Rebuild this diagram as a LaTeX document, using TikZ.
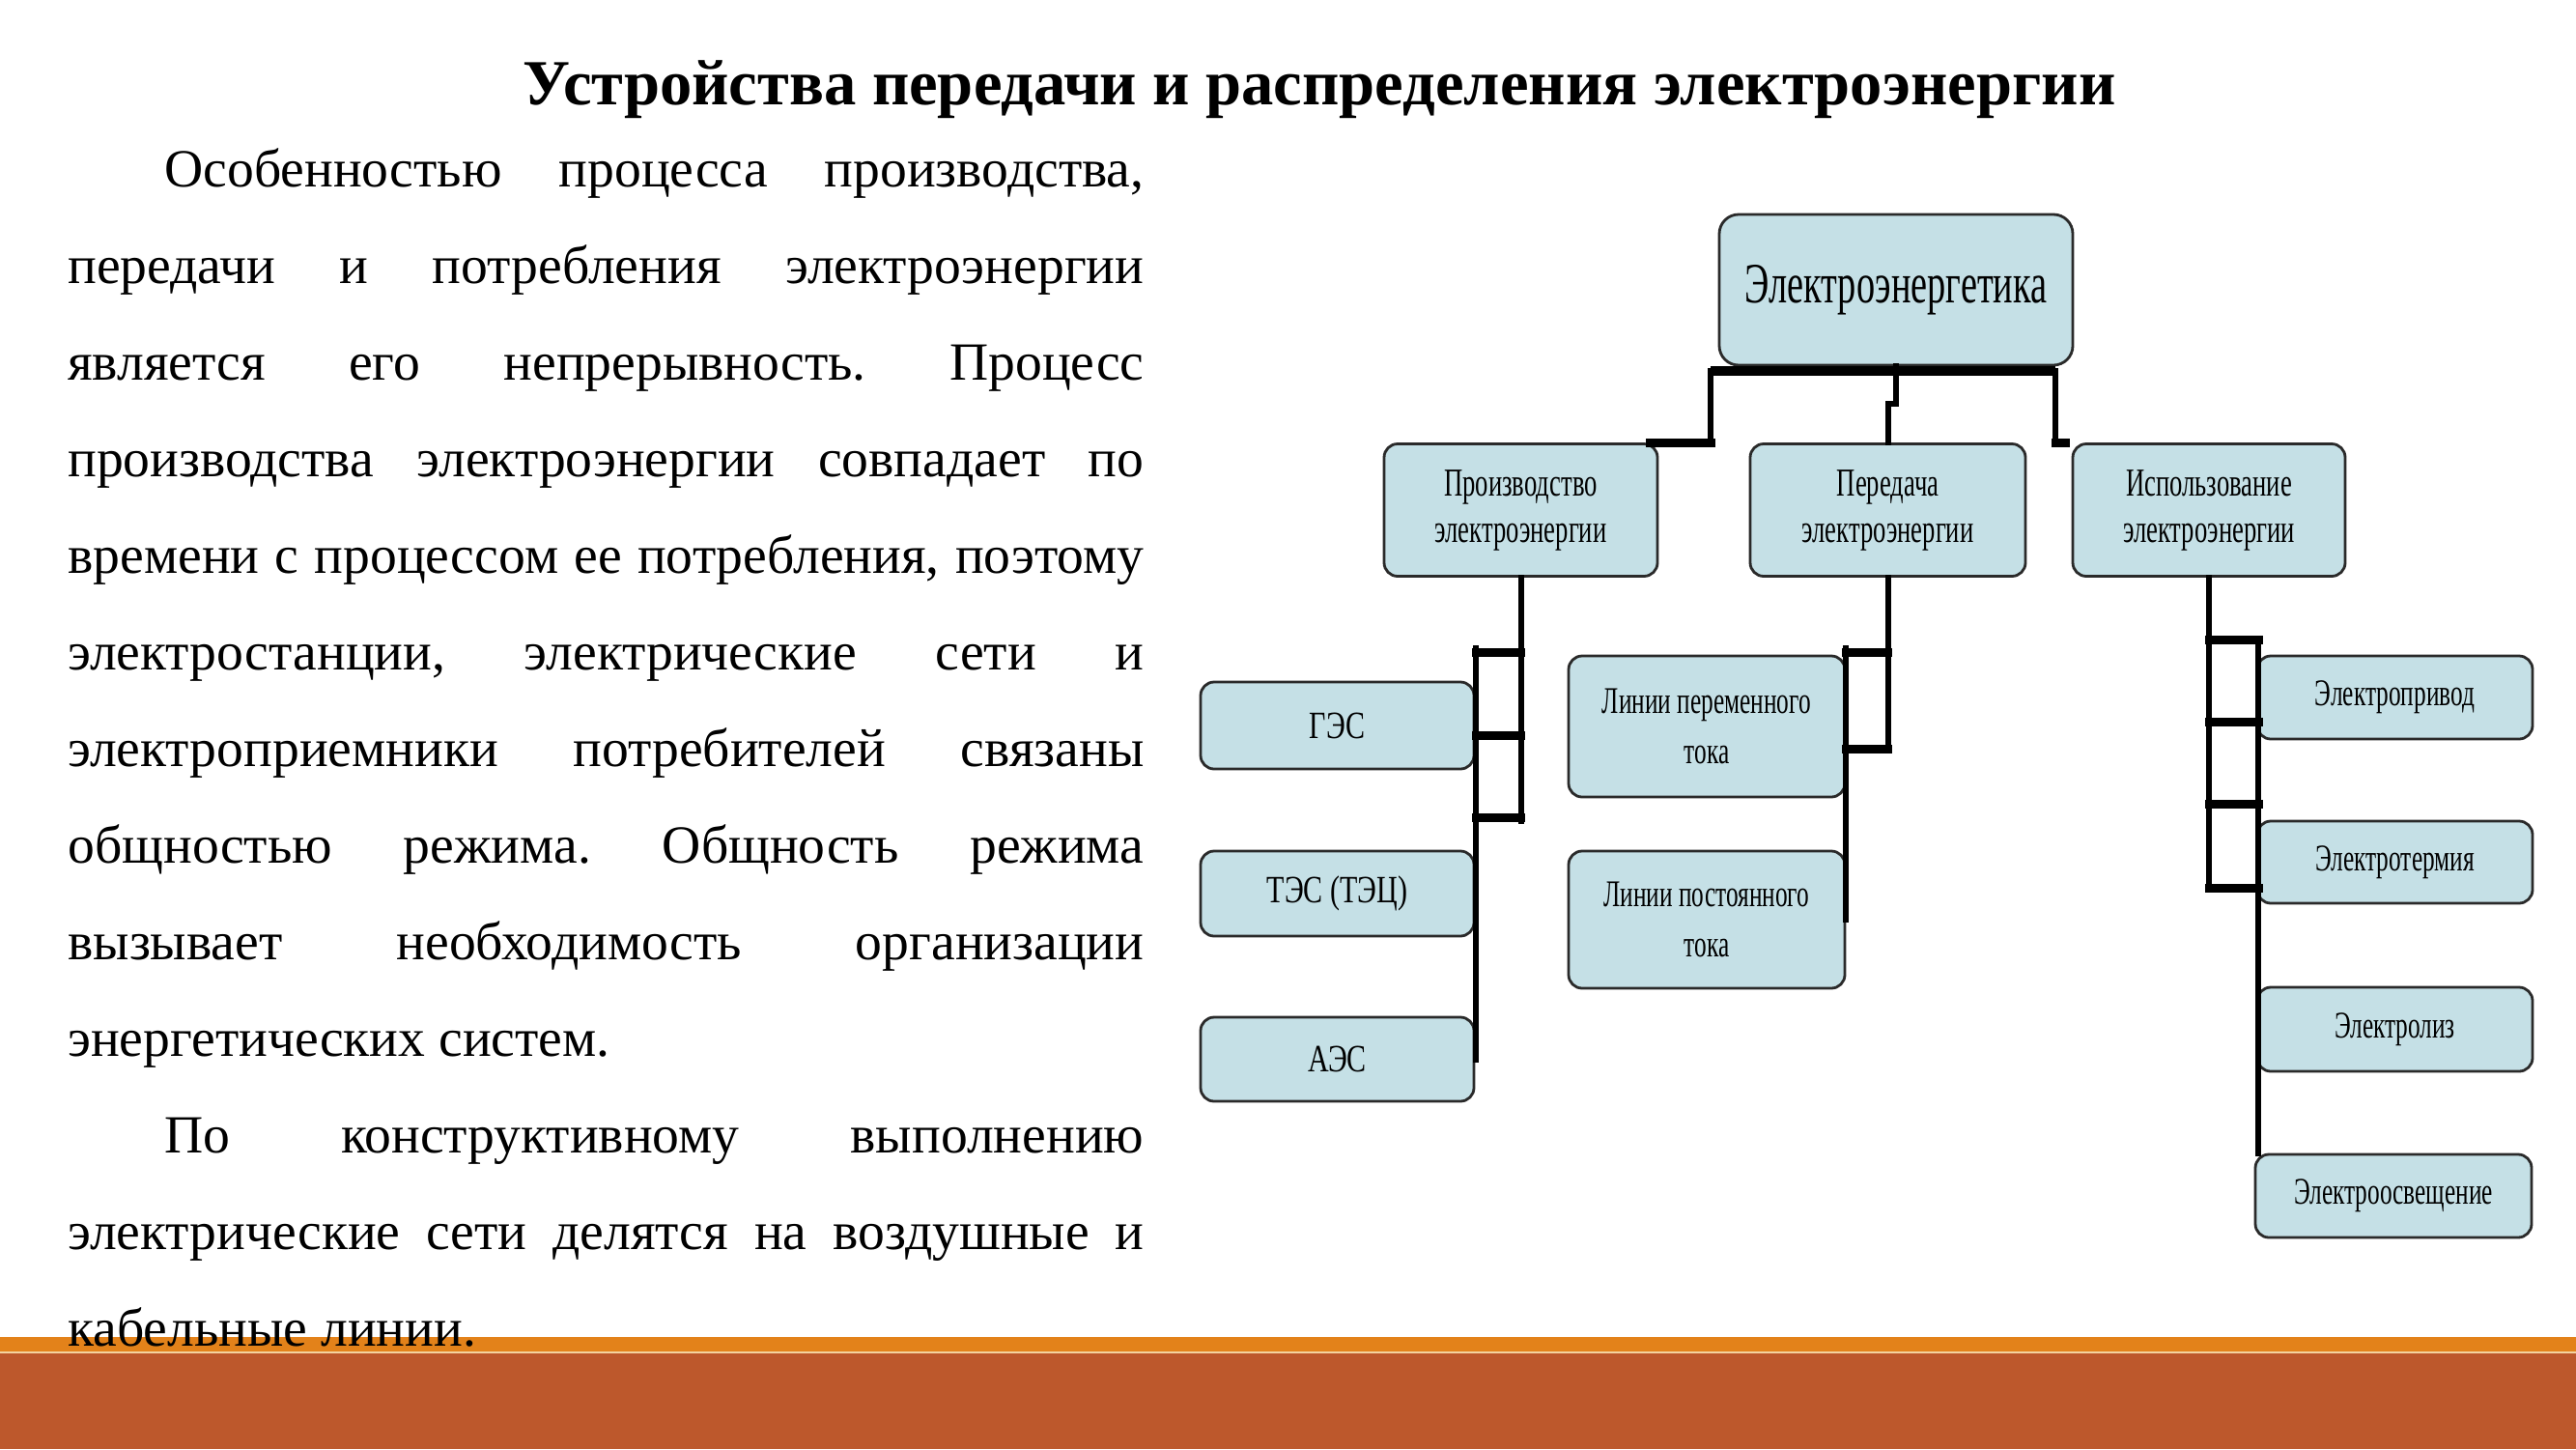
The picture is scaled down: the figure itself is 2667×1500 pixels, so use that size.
\documentclass[tikz,border=0pt]{standalone}
\usepackage{fontspec}
\setmainfont{Liberation Serif}
\newfontfamily\diagfont[FakeStretch=0.65]{Liberation Serif}
\newfontfamily\diagwide[FakeStretch=0.75]{Liberation Serif}
\usetikzlibrary{calc}
\definecolor{boxfill}{HTML}{C5E0E6}
\definecolor{boxline}{HTML}{2A2A2A}
\definecolor{bandorange}{HTML}{E3821A}
\definecolor{bandred}{HTML}{BD582C}
\definecolor{bandpale}{HTML}{F3D3A0}
\frenchspacing
\begin{document}
\begin{tikzpicture}[x=0.5pt,y=-0.5pt,
  box/.style={draw=boxline, line width=1.4pt, fill=boxfill, rounded corners=7pt,
    inner sep=0pt, align=center, text=black},
  vline/.style={line width=3pt, black, line cap=rect},
  hbar/.style={line width=4.5pt, black, line cap=rect},
  bodyline/.style={anchor=base west, inner sep=0pt, font=\fontsize{27.8}{32}\selectfont},
]
\useasboundingbox (0,0) rectangle (2667,1500);
\fill[white] (0,0) rectangle (2667,1500);

% footer bands
\fill[bandorange] (0,1384) rectangle (2667,1399);
\fill[bandpale] (0,1399) rectangle (2667,1401);
\fill[bandred] (0,1401) rectangle (2667,1500);

% heading
\node[anchor=base, inner sep=0pt, font=\bfseries\fontsize{33.3}{40}\selectfont] (title)
  at (1366,108) {Устройства передачи и распределения электроэнергии};

% body text, justified line by line
\node[bodyline] (l1)  at (170,193)  {\makebox[507pt][s]{Особенностью процесса производства,}};
\node[bodyline] (l2)  at (70,293)   {\makebox[557pt][s]{передачи и потребления электроэнергии}};
\node[bodyline] (l3)  at (70,393)   {\makebox[557pt][s]{является его непрерывность. Процесс}};
\node[bodyline] (l4)  at (70,493)   {\makebox[557pt][s]{производства электроэнергии совпадает по}};
\node[bodyline] (l5)  at (70,593)   {\makebox[557pt][s]{времени с процессом ее потребления, поэтому}};
\node[bodyline] (l6)  at (70,693)   {\makebox[557pt][s]{электростанции, электрические сети и}};
\node[bodyline] (l7)  at (70,793)   {\makebox[557pt][s]{электроприемники потребителей связаны}};
\node[bodyline] (l8)  at (70,893)   {\makebox[557pt][s]{общностью режима. Общность режима}};
\node[bodyline] (l9)  at (70,993)   {\makebox[557pt][s]{вызывает необходимость организации}};
\node[bodyline] (l10) at (70,1093)  {энергетических систем.};
\node[bodyline] (l11) at (170,1193) {\makebox[507pt][s]{По конструктивному выполнению}};
\node[bodyline] (l12) at (70,1293)  {\makebox[557pt][s]{электрические сети делятся на воздушные и}};
\node[bodyline] (l13) at (70,1393)  {кабельные линии.};

% hierarchy boxes
\node[box, rounded corners=10pt, minimum width=183pt, minimum height=78pt,
  font=\diagfont\fontsize{29.5}{34}\selectfont] (top) at (1963,300) {Электроэнергетика};

\node[box, minimum width=141.5pt, minimum height=68.5pt,
  font=\diagfont\fontsize{20.5}{24}\selectfont] (prod) at (1574.5,528) {Производство\\электроэнергии};
\node[box, minimum width=142.5pt, minimum height=68.5pt,
  font=\diagfont\fontsize{20.5}{24}\selectfont] (pered) at (1954.5,528) {Передача\\электроэнергии};
\node[box, minimum width=141pt, minimum height=68.5pt,
  font=\diagfont\fontsize{20.5}{24}\selectfont] (isp) at (2287,528) {Использование\\электроэнергии};

\node[box, minimum width=141.5pt, minimum height=45pt,
  font=\diagwide\fontsize{20}{24}\selectfont] (ges) at (1384.5,751) {ГЭС};
\node[box, minimum width=141.5pt, minimum height=44pt,
  font=\diagwide\fontsize{20}{24}\selectfont] (tes) at (1384.5,925) {ТЭС (ТЭЦ)};
\node[box, minimum width=141.5pt, minimum height=43.5pt,
  font=\diagwide\fontsize{20}{24}\selectfont] (aes) at (1384.5,1096.5) {АЭС};

\node[box, minimum width=143pt, minimum height=73pt,
  font=\diagfont\fontsize{19.5}{26}\selectfont] (lac) at (1767,752) {Линии переменного\\тока};
\node[box, minimum width=143pt, minimum height=71pt,
  font=\diagfont\fontsize{19.5}{26}\selectfont] (ldc) at (1767,952) {Линии постоянного\\тока};

\node[box, minimum width=142.5pt, minimum height=43pt,
  font=\diagfont\fontsize{19.5}{24}\selectfont] (drive) at (2479.5,722) {Электропривод};
\node[box, minimum width=142.5pt, minimum height=42.5pt,
  font=\diagfont\fontsize{19.5}{24}\selectfont] (therm) at (2479.5,892.5) {Электротермия};
\node[box, minimum width=142.5pt, minimum height=43.5pt,
  font=\diagfont\fontsize{19.5}{24}\selectfont] (lysis) at (2479.5,1065.5) {Электролиз};
\node[box, minimum width=143pt, minimum height=43pt,
  font=\diagfont\fontsize{19.5}{24}\selectfont] (light) at (2478,1238) {Электроосвещение};

% connectors from the top box
\coordinate (busL) at (1771,384);
\coordinate (busR) at (2128,384);
\draw[line width=5pt, black] (busL) -- (busR);
\draw[vline] (busL) -- (busL |- prod.north);
\draw[hbar] (busL |- prod.north) -- ([xshift=-4.5pt]prod.north east);
\draw[vline] (top.south) -- ++(0,39) -| (pered.north);
\draw[vline] (busR) -- (busR |- isp.north);
\draw[hbar] (busR |- isp.north) -- ([xshift=-3pt]isp.north west);

% production branch
\coordinate (pA) at (1528,671);
\coordinate (pC) at (1574.5,850);
\draw[vline] (prod.south) -- (pC);
\draw[vline] (pA) -- (pA |- aes.east);
\foreach \yy in {675,761,846}
  \draw[hbar] (pA |- 0,\yy) -- (prod.south |- 0,\yy);

% transmission branch
\coordinate (tA) at (1911,671);
\coordinate (tC) at (1954.5,777);
\draw[vline] (pered.south) -- (tC);
\draw[vline] (tA) -- (tA |- ldc.east);
\foreach \yy in {675,775}
  \draw[hbar] (tA |- 0,\yy) -- (pered.south |- 0,\yy);

% usage branch
\coordinate (uA) at (2338,662);
\coordinate (uC) at (2287,921);
\draw[vline] (isp.south) -- (uC);
\draw[vline] (uA) -- (uA |- light.north);
\foreach \yy in {662,747,832,919}
  \draw[hbar] (uA |- 0,\yy) -- (isp.south |- 0,\yy);
\end{tikzpicture}
\end{document}
